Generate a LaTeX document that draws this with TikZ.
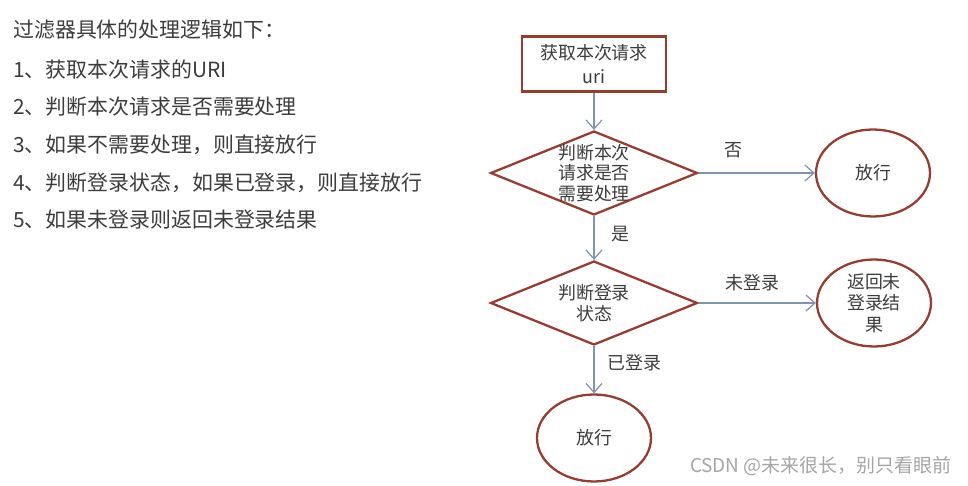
\documentclass[tikz,border=0pt]{standalone}
\usepackage{fontspec}
\setmainfont{Noto Sans CJK SC}
\usepackage{tikz}
\usetikzlibrary{arrows.meta,positioning,shapes.geometric}
\definecolor{flowred}{RGB}{150,60,48}
\definecolor{flowline}{RGB}{128,148,178}
\definecolor{inktext}{RGB}{60,60,60}
\definecolor{wmgray}{RGB}{165,165,165}
\tikzset{
  procbox/.style={rectangle, draw=flowred, line width=1.3pt, minimum width=2.88cm,
      minimum height=1.1cm, inner sep=0pt, align=center, text=inktext,
      font=\fontsize{10.2}{14}\selectfont},
  decbox/.style={diamond, draw=flowred, line width=1.3pt, minimum width=4.14cm,
      minimum height=1.68cm, aspect=2.46, inner sep=0pt},
  dtxt/.style={align=center, text=inktext, inner sep=0pt,
      font=\fontsize{10.2}{11.7}\selectfont},
  endbox/.style={ellipse, draw=flowred, line width=1.3pt, minimum width=2.28cm,
      minimum height=1.74cm, inner sep=0pt, align=center, text=inktext,
      font=\fontsize{10.2}{12.2}\selectfont},
  farr/.style={-{Straight Barb[length=1.8mm, width=3.2mm]}, flowline, line width=0.7pt},
  elab/.style={text=inktext, font=\fontsize{10.2}{12}\selectfont},
  introtxt/.style={anchor=west, text=inktext, inner sep=0pt,
      font=\fontsize{11.9}{14}\selectfont},
  wmark/.style={anchor=east, text=wmgray, inner sep=0pt,
      font=\fontsize{10.8}{13}\selectfont},
}
\begin{document}
\begin{tikzpicture}[x=0.02cm, y=-0.02cm]
  \useasboundingbox (0,0) rectangle (968,486);
  % steps written out on the left
  \node[introtxt] (intro) at (13,30) {过滤器具体的处理逻辑如下：};
  \foreach \n/\y/\t in {1/70/获取本次请求的URI, 2/107/判断本次请求是否需要处理,
      3/145/{如果不需要处理，则直接放行}, 4/183/{判断登录状态，如果已登录，则直接放行},
      5/220/如果未登录则返回未登录结果}
    \node[introtxt] (step\n) at (13,\y) {\n、\t};
  % flow chart
  \node[procbox] (getUri) at (594,64) {获取本次请求\\uri};
  \node[decbox, label={[dtxt]center:{判断本次\\请求是否\\需要处理}}] (needChk) at (594,173) {};
  \node[endbox] (passA) at (873,173) {放行};
  \node[decbox, label={[dtxt]center:{判断登录\\状态}}] (loginChk) at (594,303) {};
  \node[endbox] (retRes) at (874,303) {返回未\\登录结\\果};
  \node[endbox] (passB) at (594,438) {放行};
  \draw[farr] (getUri) -- (needChk);
  \draw[farr] (needChk.east) -- node[elab, pos=0.3, above=5pt] {否} (passA.west);
  \draw[farr] (needChk.south) -- node[elab, pos=0.42, right=6pt] {是} (loginChk.north);
  \draw[farr] (loginChk.east) -- node[elab, pos=0.46, above=3pt] {未登录} (retRes.west);
  \draw[farr] (loginChk.south) -- node[elab, pos=0.36, right=4pt] {已登录} (passB.north);
  \node[wmark] (wm) at (952,466) {CSDN @未来很长，别只看眼前};
\end{tikzpicture}
\end{document}
